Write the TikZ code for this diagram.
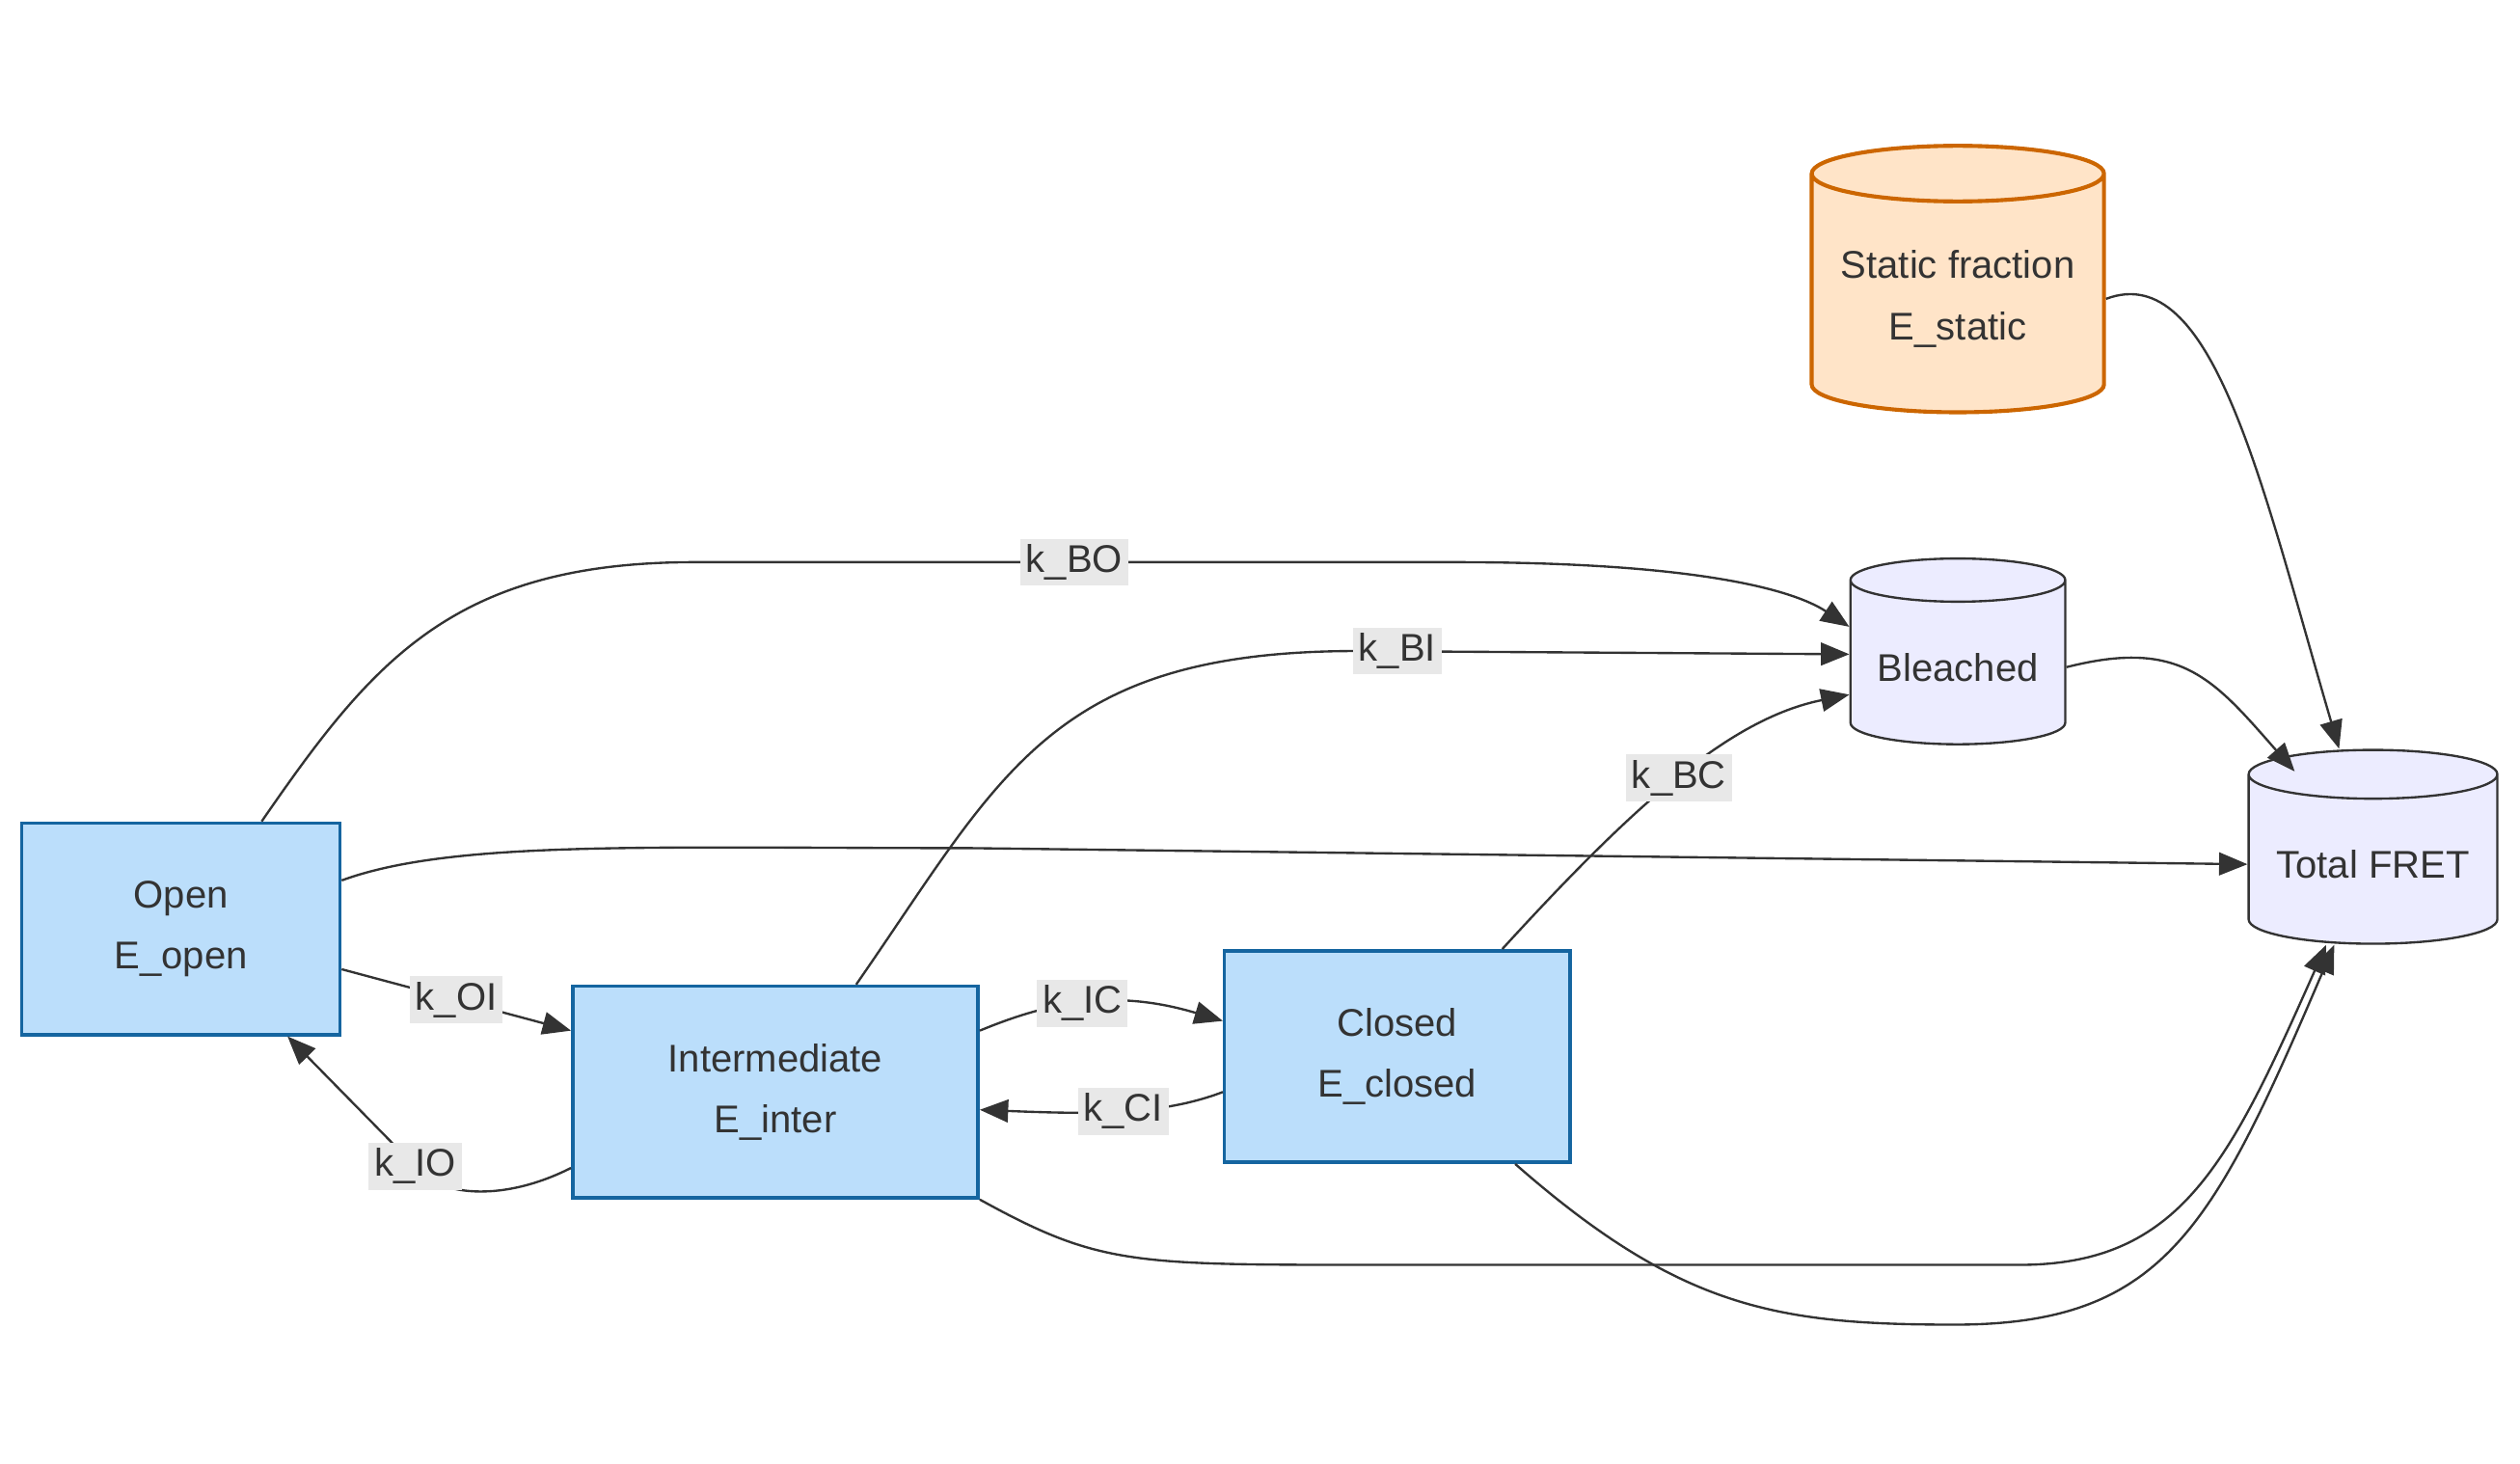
\documentclass[tikz,border=0pt]{standalone}
\usepackage{fontspec}
\setmainfont{Liberation Sans}
\usetikzlibrary{calc,shapes.geometric,arrows.meta}
\definecolor{stateblue}{HTML}{BBDEFB}
\definecolor{stateline}{HTML}{1565A0}
\definecolor{poolfill}{HTML}{ECECFF}
\definecolor{staticfill}{HTML}{FFE4C8}
\definecolor{staticline}{HTML}{CC6600}
\definecolor{lblfill}{HTML}{E8E8E8}
\definecolor{ink}{HTML}{333333}
\begin{document}
\begin{tikzpicture}[x=0.02cm,y=-0.02cm,
		state/.style={rectangle,draw=stateline,fill=stateblue,line width=1.2pt,
			align=center,text=ink,font=\fontsize{13.6}{21.5}\selectfont},
		pool/.style={cylinder,shape border rotate=90,draw=ink,fill=poolfill,
			line width=0.8pt,align=center,text=ink,font=\fontsize{13.6}{21.5}\selectfont},
		lbl/.style={fill=lblfill,inner sep=2pt,text=ink,font=\fontsize{13.6}{16}\selectfont},
		flow/.style={draw=ink,line width=0.8pt,-{Stealth[length=10pt,width=8pt,inset=0pt]}}
		]
		\useasboundingbox (0,0) rectangle (1560,906);
		\node[state, minimum width=3.94cm, minimum height=2.62cm](open) at (112,575){Open\\E\_open};
		\node[state, minimum width=5.02cm, minimum height=2.62cm](inter) at (480,676){Intermediate\\E\_inter};
		\node[state, minimum width=4.28cm, minimum height=2.62cm](closed) at (865,654){Closed\\E\_closed};
		\node[pool, draw=staticline, fill=staticfill, line width=1.4pt, aspect=0.22,
			minimum width=3.62cm, minimum height=3.3cm](static) at (1212,185){Static fraction\\E\_static};
		\node[pool, aspect=0.24, minimum width=2.66cm, minimum height=2.3cm](bleached) at (1212,413){Bleached};
		\node[pool, aspect=0.23, minimum width=3.08cm, minimum height=2.4cm](total) at (1469,535){Total FRET};
		% routes into the bleached pool
		\draw[flow] ($(open.north)+(50,0)$) .. controls (230,410) and (280,348) .. (430,348)
			-- node[lbl]{k\_BO} (900,348) .. controls (1050,348) and (1110,365) .. ($(bleached.west)+(0,-25)$);
		\draw[flow] ($(inter.north)+(50,0)$) .. controls (620,480) and (650,403) .. (840,403)
			node[lbl, xshift=0.5cm]{k\_BI} -- ($(bleached.west)+(0,-8)$);
		\draw[flow] ($(closed.north)+(65,0)$) .. controls (1010,500) and (1070,445) .. ($(bleached.west)+(0,17)$)
			node[lbl, pos=0.5]{k\_BC};
		% routes into total FRET
		\draw[flow] (bleached.east) .. controls (1350,395) and (1370,420) .. ($(total.north west)+(16,7)$);
		\draw[flow] (static.east) .. controls (1370,160) and (1400,300) .. ($(total.north)+(-21,0)$);
		\draw[flow] ($(open.east)+(0,-30)$) .. controls (280,520) and (400,525) .. (600,525) -- (total.west);
		\draw[flow] (inter.south east) .. controls (680,783) and (700,783) .. (850,783) -- (1250,783)
			.. controls (1350,783) and (1380,720) .. ($(total.south)+(-29,0)$);
		\draw[flow] ($(closed.south)+(73,0)$) .. controls (1040,810) and (1100,820) .. (1210,820)
			.. controls (1340,820) and (1370,760) .. ($(total.south)+(-24,0)$);
		% transitions between states
		\draw[flow] ($(open.east)+(0,25)$) -- node[lbl]{k\_OI} ($(inter.west)+(0,-38)$);
		\draw[flow] ($(inter.west)+(0,47)$) .. controls (310,745) and (270,740) .. (257,722)
			node[lbl]{k\_IO} -- ($(open.south)+(66,0)$);
		\draw[flow] ($(inter.east)+(0,-38)$) .. controls (650,620) and (690,612) .. ($(closed.west)+(0,-22)$)
			node[lbl, pos=0.48]{k\_IC};
		\draw[flow] ($(closed.west)+(0,22)$) .. controls (720,690) and (680,690) .. ($(inter.east)+(0,11)$)
			node[lbl, pos=0.5]{k\_CI};
	\end{tikzpicture}
\end{document}
